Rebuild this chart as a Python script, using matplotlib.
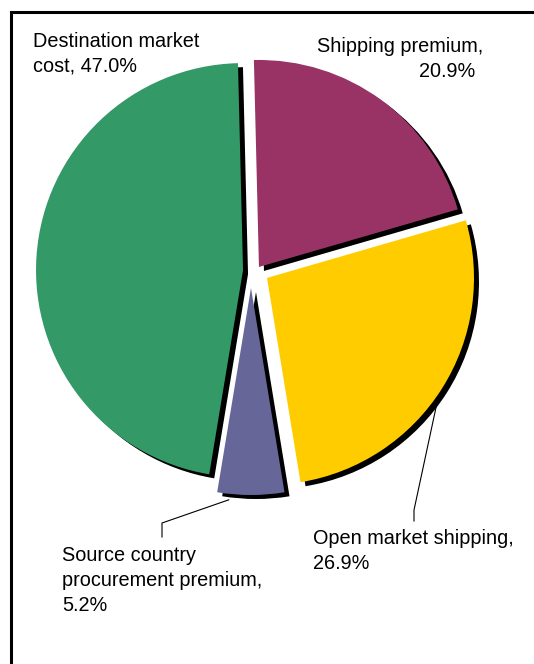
import numpy as np
import matplotlib
matplotlib.use("Agg")
import matplotlib.pyplot as plt
from matplotlib.patches import Rectangle

plt.rcParams['font.family'] = ['Liberation Sans', 'DejaVu Sans']

# data, clockwise from the top
labels = ["Shipping premium", "Open market shipping",
          "Source country procurement premium", "Destination market cost"]
shares = [20.9, 26.9, 5.2, 47.0]
colors = ["#993366", "#ffcc00", "#666699", "#339966"]

W, H = 534, 664
fig = plt.figure(figsize=(W / 100, H / 100), dpi=100)
ax = fig.add_axes([0, 0, 1, 1])

center = (256, H - 271)
radius = 207
explode = [5, 13, 17, 13]
start = 91.4
shadow = (5, -4)

# black drop shadow first, then the coloured slices
shadows, _ = ax.pie(shares, explode=explode, startangle=start, counterclock=False,
                    radius=radius, center=(center[0] + shadow[0], center[1] + shadow[1]),
                    colors=["black"] * 4, wedgeprops=dict(linewidth=0), frame=True)
wedges, _ = ax.pie(shares, explode=explode, startangle=start, counterclock=False,
                   radius=radius, center=center, colors=colors,
                   wedgeprops=dict(linewidth=0), frame=True)
# small slice sits a little left of straight down in the original
for w in (shadows[2], wedges[2]):
    cx, cy = w.center
    w.set_center((cx - 5, cy))

ax.set_xlim(0, W)
ax.set_ylim(0, H)
ax.set_aspect("equal")
ax.axis("off")


def edge_point(w, ang, extra=0):
    cx, cy = w.center
    a = np.deg2rad(ang)
    return cx + (w.r + extra) * np.cos(a), cy + (w.r + extra) * np.sin(a)


def label(lines, x, y, ha="left", xs=None):
    # one text per line, 25 px apart, y = first baseline from the top
    for i, s in enumerate(lines):
        xx = x if xs is None else xs[i]
        ax.text(xx, H - (y + 25 * i), s, fontsize=14.3, ha=ha, va="baseline")


pct = [f"{v:.1f}%" for v in shares]
label(["Destination market", f"cost, {pct[3]}"], 33, 47)
label([f"{labels[0]},", pct[0]], None, 52, ha="right", xs=[483, 475])
label([f"{labels[1]},", pct[1]], 313, 544)
label(["Source country", "procurement premium,", pct[2]], 62, 561)

# leader lines
p = edge_point(wedges[2], -96, 6)
ax.plot([p[0], 162, 162], [p[1], H - 523, H - 537], color="black", lw=0.8)
p = edge_point(wedges[1], -37.5, 6)
ax.plot([p[0], 414, 414], [p[1], H - 510, H - 521], color="black", lw=0.8)

# outer frame
ax.add_patch(Rectangle((11, -20), W + 20, H - 12 + 20, fill=False,
                       edgecolor="black", lw=2.2, clip_on=False))

fig.savefig("out.png", dpi=100)
